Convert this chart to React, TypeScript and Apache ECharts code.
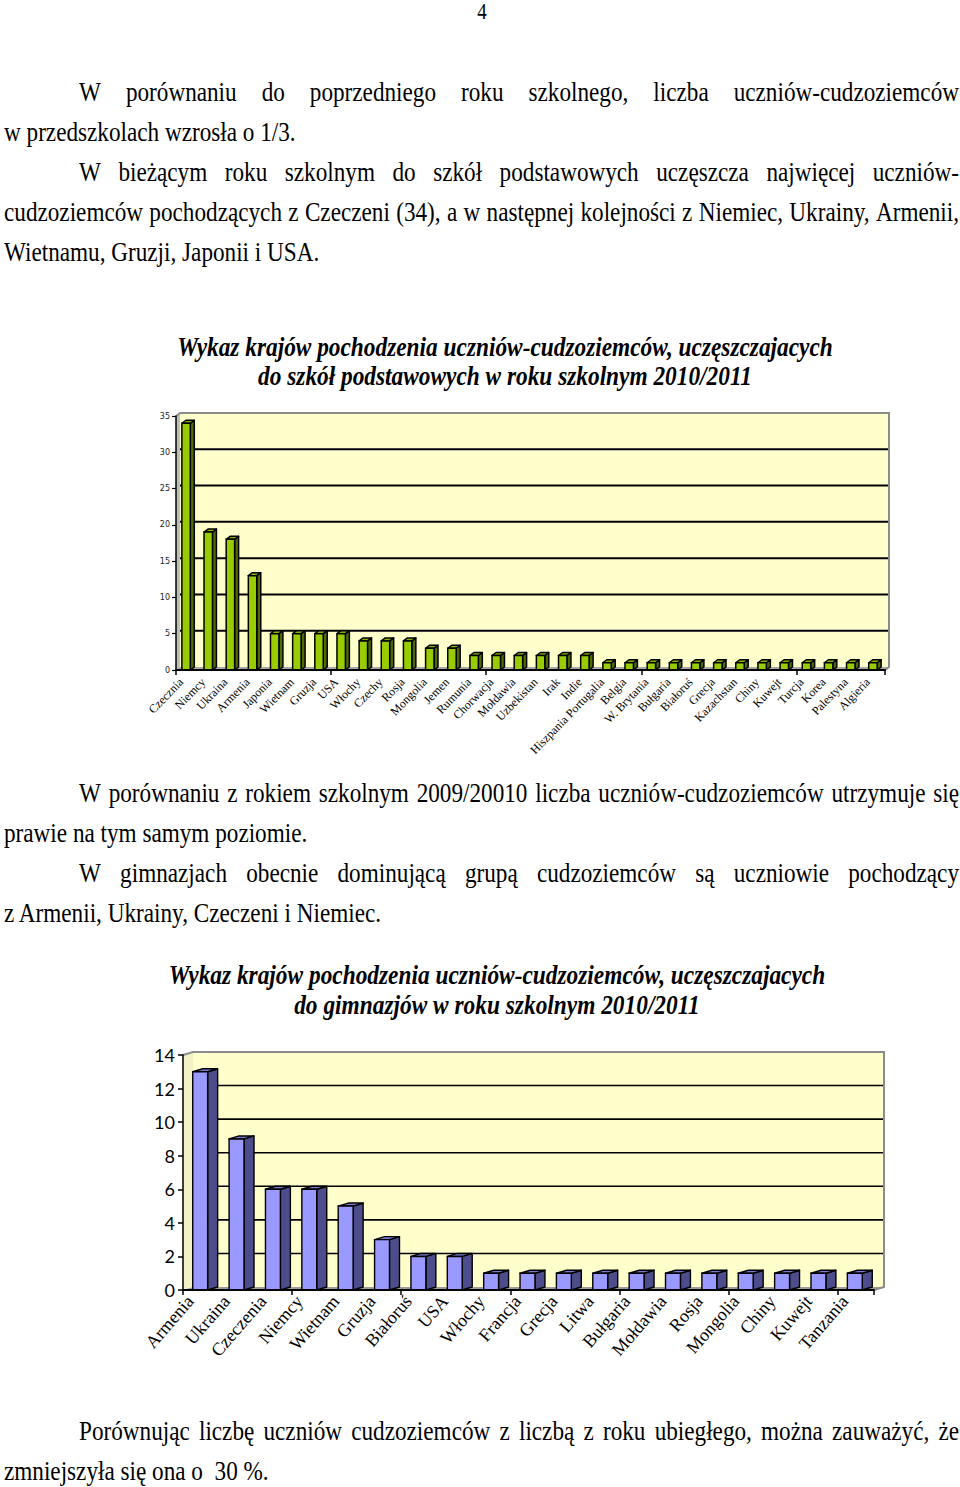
import React, { useEffect, useRef } from "react";
import * as echarts from "echarts";

// ---------- DATA ----------
const primaryCountries = [
  "Czecznia", "Niemcy", "Ukraina", "Armenia", "Japonia", "Wietnam", "Gruzja", "USA",
  "Włochy", "Czechy", "Rosja", "Mongolia", "Jemen", "Rumunia", "Chorwacja", "Mołdawia",
  "Uzbekistan", "Irak", "Indie", "Hiszpania Portugalia", "Belgia", "W. Brytania", "Bułgaria",
  "Białoruś", "Grecja", "Kazachstan", "Chiny", "Kuwejt", "Turcja", "Korea", "Palestyna", "Algieria",
];
const primaryCounts = [34, 19, 18, 13, 5, 5, 5, 5, 4, 4, 4, 3, 3, 2, 2, 2, 2, 2, 2, 1, 1, 1, 1, 1, 1, 1, 1, 1, 1, 1, 1, 1];
const primaryTicks = [0, 5, 10, 15, 20, 25, 30, 35];

const gymCountries = [
  "Armenia", "Ukraina", "Czeczenia", "Niemcy", "Wietnam", "Gruzja", "Białoruś", "USA", "Włochy",
  "Francja", "Grecja", "Litwa", "Bułgaria", "Mołdawia", "Rosja", "Mongolia", "Chiny", "Kuwejt", "Tanzania",
];
const gymCounts = [13, 9, 6, 6, 5, 3, 2, 2, 1, 1, 1, 1, 1, 1, 1, 1, 1, 1, 1];
const gymTicks = [0, 2, 4, 6, 8, 10, 12, 14];

const pageNumber = "4";
const paragraphLines = [
  { text: "W porównaniu do poprzedniego roku szkolnego, liczba uczniów-cudzoziemców", x0: 79, y: 91, justify: true },
  { text: "w przedszkolach wzrosła o 1/3.", x0: 4, y: 131, justify: false },
  { text: "W bieżącym roku szkolnym do szkół podstawowych uczęszcza najwięcej uczniów-", x0: 79, y: 171, justify: true },
  { text: "cudzoziemców pochodzących z Czeczeni (34), a w następnej kolejności z Niemiec, Ukrainy, Armenii,", x0: 4, y: 211, justify: true },
  { text: "Wietnamu, Gruzji, Japonii i USA.", x0: 4, y: 251, justify: false },
  { text: "W porównaniu z rokiem szkolnym 2009/20010 liczba uczniów-cudzoziemców utrzymuje się", x0: 79, y: 792, justify: true },
  { text: "prawie na tym samym poziomie.", x0: 4, y: 832, justify: false },
  { text: "W gimnazjach obecnie dominującą grupą cudzoziemców są uczniowie pochodzący", x0: 79, y: 872, justify: true },
  { text: "z Armenii, Ukrainy, Czeczeni i Niemiec.", x0: 4, y: 912, justify: false },
  { text: "Porównując liczbę uczniów cudzoziemców z liczbą z roku ubiegłego, można zauważyć, że", x0: 79, y: 1430, justify: true },
  { text: "zmniejszyła się ona o  30 %.", x0: 4, y: 1470, justify: false },
];
const titleLine1 = "Wykaz krajów pochodzenia uczniów-cudzoziemców, uczęszczajacych";
const title1Line2 = "do szkół podstawowych w roku szkolnym 2010/2011";
const title2Line2 = "do gimnazjów w roku szkolnym 2010/2011";

// ---------- LAYOUT ----------
const RIGHT_EDGE = 959;
const BODY_SIZE = 23.2;
const SERIF = "'Liberation Serif', 'Times New Roman', serif";
const STRETCH = 1.18;

let measureCtx: CanvasRenderingContext2D | null = null;
function textWidth(t: string, font: string) {
  if (!measureCtx) measureCtx = document.createElement("canvas").getContext("2d");
  measureCtx!.font = font;
  return measureCtx!.measureText(t).width;
}

function textEl(text: string, x: number, y: number, opts: any = {}) {
  return {
    type: "text",
    x,
    y,
    scaleY: STRETCH,
    silent: true,
    style: {
      text,
      fill: "#000",
      fontFamily: SERIF,
      fontSize: opts.fontSize ?? BODY_SIZE,
      fontStyle: opts.fontStyle ?? "normal",
      fontWeight: opts.fontWeight ?? "normal",
      align: opts.align ?? "left",
      textAlign: opts.align ?? "left",
      verticalAlign: "middle",
      textVerticalAlign: "middle",
    },
  };
}

function paragraphElements() {
  const font = `${BODY_SIZE}px ${SERIF}`;
  const out: any[] = [];
  paragraphLines.forEach((line) => {
    if (!line.justify) {
      out.push(textEl(line.text, line.x0, line.y));
      return;
    }
    const words = line.text.split(" ");
    const widths = words.map((w) => textWidth(w, font));
    const total = widths.reduce((a, b) => a + b, 0);
    const gap = (RIGHT_EDGE - line.x0 - total) / (words.length - 1);
    let x = line.x0;
    words.forEach((w, i) => {
      out.push(textEl(w, x, line.y));
      x += widths[i] + gap;
    });
  });
  return out;
}

function titleElements(l1: string, l2: string, cx: number, width: number, y1: number, y2: number) {
  const probe = 22;
  const w = textWidth(l1, `italic bold ${probe}px ${SERIF}`);
  const size = (probe * width) / w;
  const o = { fontSize: size, fontStyle: "italic", fontWeight: "bold", align: "center" };
  return [textEl(l1, cx, y1, o), textEl(l2, cx, y2, o)];
}

// ---------- 3D RENDERERS ----------
function wallRenderer(cfg: any) {
  return (params: any, api: any) => {
    const cs = params.coordSys;
    const x = cs.x, y = cs.y, w = cs.width, h = cs.height;
    const dx = cfg.dx, dy = cfg.dy;
    const children: any[] = [
      {
        type: "polygon",
        shape: { points: [[x, y], [x + dx, y - dy], [x + dx, y + h - dy], [x, y + h]] },
        style: { fill: cfg.sideFill, stroke: null },
      },
      {
        type: "rect",
        shape: { x: x + dx, y: y - dy, width: w, height: h },
        style: { fill: "#FFFFCC", stroke: null },
      },
    ];
    cfg.ticks.forEach((v: number) => {
      if (v === 0) return;
      const yy = api.coord([0, v])[1] - dy;
      children.push({
        type: "line",
        shape: { x1: x + dx, y1: yy, x2: x + w + dx, y2: yy },
        style: { stroke: "#000", lineWidth: cfg.gridWidth },
      });
    });
    children.push(
      {
        type: "polygon",
        shape: { points: [[x, y + h], [x + dx, y + h - dy], [x + w + dx, y + h - dy], [x + w, y + h]] },
        style: { fill: cfg.floorFill, stroke: null },
      },
      {
        type: "polyline",
        shape: { points: [[x, y], [x + dx, y - dy], [x + w + dx, y - dy], [x + w + dx, y + h - dy], [x + w, y + h]] },
        style: { fill: null, stroke: "#8c8c8c", lineWidth: 2 },
      }
    );
    return { type: "group", children };
  };
}

function barRenderer(cfg: any) {
  return (params: any, api: any) => {
    const idx = api.value(0);
    const v = api.value(1);
    const base = api.coord([idx, 0]);
    const top = api.coord([idx, v]);
    const cw = api.size([1, 0])[0];
    const fw = cw * cfg.ratio;
    const x0 = base[0] - fw / 2 + cfg.shift;
    const x1 = x0 + fw;
    const yt = top[1];
    const yb = base[1];
    const dx = cfg.dx, dy = cfg.dy, lw = cfg.lw;
    return {
      type: "group",
      children: [
        {
          type: "polygon",
          shape: { points: [[x1, yt], [x1 + dx, yt - dy], [x1 + dx, yb - dy], [x1, yb]] },
          style: { fill: cfg.side, stroke: "#000", lineWidth: lw, lineJoin: "round" },
        },
        {
          type: "polygon",
          shape: { points: [[x0, yt], [x0 + dx, yt - dy], [x1 + dx, yt - dy], [x1, yt]] },
          style: { fill: cfg.top, stroke: "#000", lineWidth: lw, lineJoin: "round" },
        },
        {
          type: "rect",
          shape: { x: x0, y: yt, width: fw, height: yb - yt },
          style: { fill: cfg.front, stroke: "#000", lineWidth: lw },
        },
      ],
    };
  };
}

// ---------- OPTION ----------
function buildOption() {
  const g1 = { left: 176, top: 416, width: 709, height: 254 };
  const g2 = { left: 183, top: 1055, width: 691, height: 235 };
  const grids = [
    g1,
    { ...g1, left: g1.left - 6 },
    g2,
    { ...g2, left: g2.left - 11 },
  ];

  const mainX = (gridIndex: number, data: string[]) => ({
    type: "category",
    gridIndex,
    data,
    z: 10,
    axisLine: { show: true, lineStyle: { color: "#000", width: 2 } },
    axisTick: { show: true, length: 5, lineStyle: { color: "#000", width: 1.5 } },
    axisLabel: { show: false },
    splitLine: { show: false },
  });
  const labelX = (gridIndex: number, data: string[], size: number, rotate: number, margin: number) => ({
    type: "category",
    gridIndex,
    data,
    axisLine: { show: false },
    axisTick: { show: false },
    splitLine: { show: false },
    axisLabel: {
      interval: 0,
      rotate,
      margin,
      hideOverlap: false,
      fontFamily: SERIF,
      fontSize: size,
      color: "#000",
    },
  });

  return {
    animation: false,
    backgroundColor: "#fff",
    grid: grids,
    graphic: {
      elements: [
        textEl(pageNumber, 482, 11, { fontSize: 19, align: "center" }),
        ...paragraphElements(),
        ...titleElements(titleLine1, title1Line2, 505, 656, 347, 376),
        ...titleElements(titleLine1, title2Line2, 497, 657, 975, 1005),
      ],
    },
    xAxis: [
      mainX(0, primaryCountries),
      labelX(1, primaryCountries, 12, 46, 10),
      mainX(2, gymCountries),
      labelX(3, gymCountries, 18, 49, 8),
    ],
    yAxis: [
      {
        type: "value",
        gridIndex: 0,
        min: 0,
        max: 35,
        interval: 5,
        z: 10,
        axisLine: { show: true, lineStyle: { color: "#000", width: 1.5 } },
        axisTick: { show: true, length: 4, lineStyle: { color: "#000", width: 1.2 } },
        axisLabel: { fontFamily: "'DejaVu Sans', sans-serif", fontSize: 8, color: "#222", margin: 6 },
        splitLine: { show: false },
      },
      { type: "value", gridIndex: 1, min: 0, max: 35, show: false },
      {
        type: "value",
        gridIndex: 2,
        min: 0,
        max: 14,
        interval: 2,
        z: 10,
        axisLine: { show: true, lineStyle: { color: "#000", width: 1.5 } },
        axisTick: { show: true, length: 5, lineStyle: { color: "#000", width: 1.5 } },
        axisLabel: { fontFamily: "Lato, 'Open Sans', sans-serif", fontSize: 18, color: "#000", margin: 8 },
        splitLine: { show: false },
      },
      { type: "value", gridIndex: 3, min: 0, max: 14, show: false },
    ],
    series: [
      {
        type: "custom",
        xAxisIndex: 0,
        yAxisIndex: 0,
        silent: true,
        data: [[0, 0]],
        renderItem: wallRenderer({
          dx: 4, dy: 3, ticks: primaryTicks, gridWidth: 2, sideFill: "#BDBDBD", floorFill: "#A8A8A8",
        }),
      },
      {
        type: "custom",
        name: "Szkoły podstawowe",
        xAxisIndex: 0,
        yAxisIndex: 0,
        encode: { x: 0, y: 1 },
        data: primaryCounts.map((v, i) => [i, v]),
        renderItem: barRenderer({
          ratio: 0.38, shift: -1, dx: 4, dy: 3, lw: 1.5,
          front: "#99CC00", side: "#4E6B00", top: "#86B000",
        }),
      },
      {
        type: "custom",
        xAxisIndex: 2,
        yAxisIndex: 2,
        silent: true,
        data: [[0, 0]],
        renderItem: wallRenderer({
          dx: 10, dy: 3, ticks: gymTicks, gridWidth: 1.6, sideFill: "#F2F2C6", floorFill: "#9C9C9C",
        }),
      },
      {
        type: "custom",
        name: "Gimnazja",
        xAxisIndex: 2,
        yAxisIndex: 2,
        encode: { x: 0, y: 1 },
        data: gymCounts.map((v, i) => [i, v]),
        renderItem: barRenderer({
          ratio: 0.41, shift: -1, dx: 10, dy: 3, lw: 1.4,
          front: "#9999FF", side: "#4D4D8C", top: "#7A7AD0",
        }),
      },
    ],
  };
}

export default function App() {
  const ref = useRef<HTMLDivElement>(null);
  useEffect(() => {
    const chart = echarts.init(ref.current!, null, { renderer: "svg" });
    chart.setOption(buildOption() as any);
    return () => chart.dispose();
  }, []);
  return (
    <div
      ref={ref}
      style={{ position: "absolute", left: 0, top: 0, width: 960, height: 1487, background: "#fff" }}
    />
  );
}
